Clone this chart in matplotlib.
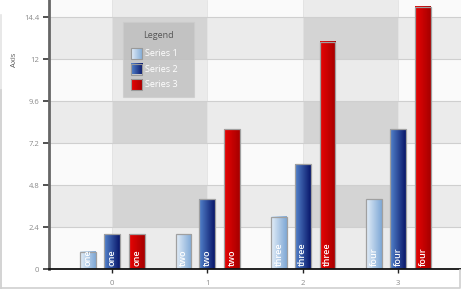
import numpy as np
import matplotlib
matplotlib.use("Agg")
import matplotlib.pyplot as plt
from matplotlib.patches import Rectangle
from matplotlib.colors import LinearSegmentedColormap

plt.rcParams['font.family'] = ['Open Sans', 'DejaVu Sans']

categories = [0, 1, 2, 3]
bar_labels = ["one", "two", "three", "four"]
series_names = ["Series 1", "Series 2", "Series 3"]
series1 = [1, 2, 3, 4]
series2 = [2, 4, 6, 8]
series3 = [2, 8, 13, 15]
y_ticks = [0, 2.4, 4.8, 7.2, 9.6, 12, 14.4]
y_tick_labels = ["0", "2.4", "4.8", "7.2", "9.6", "12", "14.4"]
x_tick_labels = ["0", "1", "2", "3"]
axis_title = "Axis"

series = [series1, series2, series3]
grads = [("#e4eef8", "#7ea8d6"), ("#5484cc", "#08166a"), ("#e80404", "#a60000")]
offsets = [-0.25, 0.0, 0.26]
width = 0.165

W, H = 461, 289
fig = plt.figure(figsize=(W / 100, H / 100), dpi=100)
fig.patch.set_facecolor("white")
ax = fig.add_axes([49 / W, 20 / H, (W - 49) / W, 269 / H])
xmin, xmax = -0.66, 3.66
ymin, ymax = 0, 15.38

# checkerboard background
row_edges = y_ticks + [ymax]
col_edges = [xmin] + [c for c in categories] + [xmax]
for i in range(len(row_edges) - 1):
    for j in range(len(col_edges) - 1):
        dark_row = (i % 2 == 1)
        dark_col = (j % 2 == 1)
        if dark_row and dark_col:
            c = "#d4d4d4"
        elif dark_row:
            c = "#ebebeb"
        elif dark_col:
            c = "#ebebeb"
        else:
            c = "#fafafa"
        ax.add_patch(Rectangle((col_edges[j], row_edges[i]),
                               col_edges[j + 1] - col_edges[j],
                               row_edges[i + 1] - row_edges[i],
                               facecolor=c, edgecolor="none", zorder=0))
for yv in y_ticks[1:]:
    ax.axhline(yv, color="#cfcfcf", lw=0.8, zorder=0.5)
for xv in categories:
    ax.axvline(xv, color="#e2e2e2", lw=0.6, zorder=0.4)

grad = np.linspace(0, 1, 64).reshape(1, -1)
for s, vals in enumerate(series):
    cmap = LinearSegmentedColormap.from_list("g%d" % s, list(grads[s]))
    for k, v in enumerate(vals):
        x0 = categories[k] + offsets[s] - width / 2
        ax.imshow(grad, extent=[x0, x0 + width, 0, v], aspect="auto",
                  cmap=cmap, zorder=2, interpolation="bilinear")
        r = Rectangle((x0, 0), width, v, facecolor="none",
                      edgecolor="#a0a0a0", lw=0.9, zorder=3)
        ax.add_patch(r)
        clip = Rectangle((x0, 0), width, v, transform=ax.transData)
        t = ax.text(categories[k] + offsets[s], 0.15, bar_labels[k],
                    rotation=90, ha="center", va="bottom", color="white",
                    fontsize=6.5, fontweight="semibold", zorder=4)
        t.set_clip_path(clip)

ax.set_xlim(xmin, xmax)
ax.set_ylim(ymin, ymax)
ax.set_xticks(categories)
ax.set_xticklabels(x_tick_labels)
ax.set_yticks(y_ticks)
ax.set_yticklabels(y_tick_labels)
ax.tick_params(axis="y", length=4, width=1.2, color="#333333", labelsize=5.5,
               labelcolor="#8a8a8a", pad=3)
ax.tick_params(axis="x", length=3, width=1.0, color="#222222", labelsize=5.5,
               labelcolor="#8a8a8a", pad=5)
for sp in ["top", "right"]:
    ax.spines[sp].set_visible(False)
ax.spines["left"].set_color("#666666")
ax.spines["left"].set_linewidth(2)
ax.spines["bottom"].set_color("#111111")
ax.spines["bottom"].set_linewidth(1.3)
ax.spines["bottom"].set_zorder(5)

# overlay for legend, axis title and border
ov = fig.add_axes([0, 0, 1, 1], facecolor="none")
ov.set_xlim(0, W)
ov.set_ylim(H, 0)
ov.axis("off")
ov.text(14, 60, axis_title, rotation=90, ha="center", va="center",
        fontsize=5.5, color="#555555")
ov.plot([1, 1], [15, 287.5], color="#e4e4e4", lw=1.2)
ov.plot([1, 1], [90, 287.5], color="#d0d0d0", lw=1.2)
ov.plot([1, 459.5, 459.5], [287.5, 287.5, 270], color="#d0d0d0", lw=1.2)

ov.add_patch(Rectangle((122.5, 22), 71, 75, facecolor="#bdbdbd", alpha=0.75,
                       edgecolor="#cccccc", lw=0.8, zorder=5))
ov.text(158, 36, "Legend", ha="center", va="center", fontsize=6.5,
        color="#555555", zorder=6)
for s, name in enumerate(series_names):
    yc = 53.5 + s * 15.5
    cmap = LinearSegmentedColormap.from_list("lg%d" % s, list(grads[s]))
    ov.imshow(grad, extent=[130.5, 142, yc + 5.5, yc - 5.5], aspect="auto",
              cmap=cmap, zorder=6, interpolation="bilinear")
    ov.add_patch(Rectangle((130.5, yc - 5.5), 11.5, 11, facecolor="none",
                           edgecolor="#999999", lw=0.8, zorder=7))
    ov.text(145, yc, name, ha="left", va="center", fontsize=6.5,
            color="white", zorder=7)
ov.set_xlim(0, W)
ov.set_ylim(H, 0)

fig.savefig("out.png", dpi=100)
